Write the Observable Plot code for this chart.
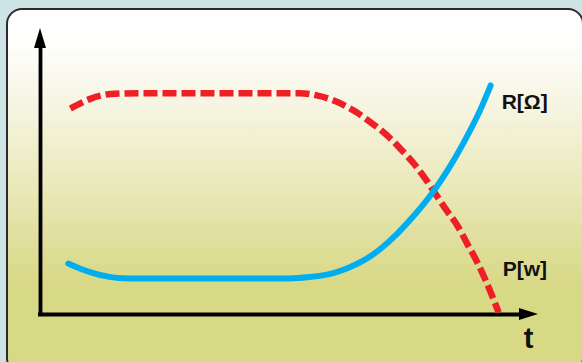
<!DOCTYPE html>
<html>
<head>
<meta charset="utf-8">
<script src="https://cdn.jsdelivr.net/npm/d3@7"></script>
<script src="https://cdn.jsdelivr.net/npm/@observablehq/plot@0.6"></script>
<style>
  html, body { margin: 0; padding: 0; }
  body { width: 582px; height: 362px; overflow: hidden; background: #cde3e5; position: relative; font-family: "Liberation Sans", Arial, sans-serif; }
  #panel {
    position: absolute; left: 6px; top: 8px; width: 578px; height: 366px;
    box-sizing: border-box; border: 2px solid #2b2b2b; border-radius: 16px;
    background: linear-gradient(to bottom, #ffffff 0px, #fefefb 35px, #f5f4e0 100px, #e9e8b8 180px, #dedd98 240px, #d8d986 275px, #d8d985 366px);
  }
  #chart { position: absolute; left: 0; top: 0; }
  #chart svg { background: transparent; overflow: visible; }
</style>
</head>
<body>
<div id="panel"></div>
<div id="chart"></div>
<script>
// Time axis (arbitrary units, 0..100) and value axis (0..100)
const tR = [5.6, 8.0, 10.6, 13.1, 15.5, 20.0, 50.0, 54.0, 58.2, 61.5, 64.9, 68.3, 71.6, 75.0, 78.3, 81.7, 85.0, 88.4, 90.4];
const vR = [17.8, 16.0, 14.5, 13.4, 12.8, 12.6, 12.6, 13.1, 14.2, 16.1, 18.9, 23.0, 28.2, 34.6, 41.6, 50.3, 60.2, 71.9, 80.1];

const tP = [6.0, 8.0, 10.0, 12.0, 14.1, 20.0, 52.0, 55.5, 58.9, 62.9, 66.3, 69.6, 72.3, 75.0, 77.3, 79.3, 81.3, 83.7, 85.7, 87.7, 89.4, 92.0];
const vP = [72.0, 73.8, 75.4, 76.5, 77.1, 77.4, 77.4, 76.6, 74.8, 71.3, 67.2, 62.6, 57.9, 52.7, 47.4, 42.2, 37.0, 31.1, 24.7, 18.3, 11.9, 0.7];

const labelText = ["R[Ω]", "P[w]", "t"];
const labelT = [92.6, 92.8, 98.0];
const labelV = [74.1, 15.7, -8.4];

const rData = tR.map((t, i) => ({t, v: vR[i]}));
const pData = tP.map((t, i) => ({t, v: vP[i]}));
const labels = labelText.map((text, i) => ({text, t: labelT[i], v: labelV[i]}));

const T_MAX = 100, V_MAX = 100;

const plot = Plot.plot({
  width: 582,
  height: 362,
  margin: 0,
  style: {background: "transparent", overflow: "visible"},
  x: {domain: [0, T_MAX], range: [40, 538], axis: null},
  y: {domain: [0, V_MAX], range: [314, 28], axis: null},
  marks: [
    // axes lines
    Plot.ruleY([0], {x1: -0.4, x2: T_MAX - 3, stroke: "#000", strokeWidth: 3.8}),
    Plot.ruleX([0], {y1: -0.6, y2: V_MAX - 6, stroke: "#000", strokeWidth: 3.8}),
    // curves
    Plot.line(pData, {x: "t", y: "v", curve: "monotone-x", stroke: "#ee1f26", strokeWidth: 6.5, strokeDasharray: "14,5", strokeLinecap: "butt"}),
    Plot.line(rData, {x: "t", y: "v", curve: "monotone-x", stroke: "#00aeef", strokeWidth: 6, strokeLinecap: "round", strokeLinejoin: "round"}),
    // labels
    Plot.text(labels.slice(0, 2), {x: "t", y: "v", text: "text", textAnchor: "start", fontSize: 21, fontWeight: "bold", fill: "#111", fontFamily: "Liberation Sans, Arial, sans-serif", letterSpacing: 0.5}),
    Plot.text(labels.slice(2), {x: "t", y: "v", text: "text", textAnchor: "middle", fontSize: 29, fontWeight: "bold", fill: "#111", fontFamily: "Liberation Sans, Arial, sans-serif"})
  ]
});

// arrowheads computed from scales
const sx = plot.scale("x"), sy = plot.scale("y");
const svg = d3.select(plot.tagName === "svg" ? plot : plot.querySelector("svg"));
const ox = sx.apply(0), oy = sy.apply(0);
const tipX = sx.apply(T_MAX), tipY = sy.apply(V_MAX);
svg.append("path")
  .attr("d", `M${tipX},${oy} L${tipX - 19},${oy - 6} L${tipX - 19},${oy + 6} Z`)
  .attr("fill", "#000");
svg.append("path")
  .attr("d", `M${ox},${tipY} L${ox - 6},${tipY + 20} L${ox + 6},${tipY + 20} Z`)
  .attr("fill", "#000");

document.getElementById("chart").appendChild(plot);
</script>
</body>
</html>
